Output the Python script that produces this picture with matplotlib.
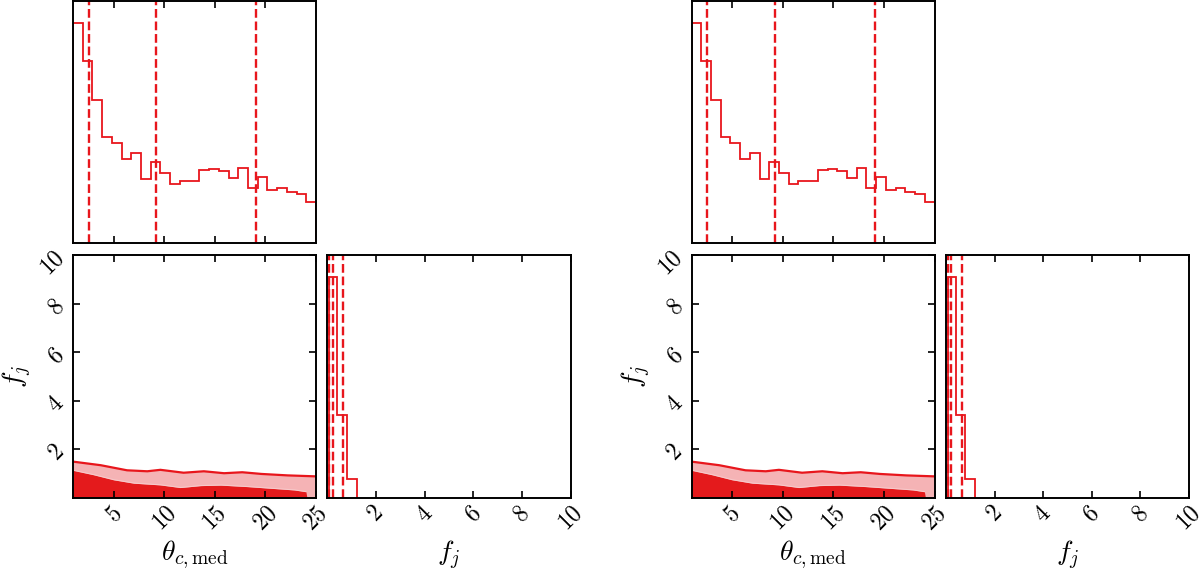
#! /usr/bin/env python3

import numpy as np
import matplotlib
matplotlib.use( 'Agg' )
import matplotlib.pyplot as plt

#----------------------------------------------------------------------------
# Values (same posterior drawn twice)
#----------------------------------------------------------------------------
theta_lo, theta_hi, theta_nbins = 0.95, 25.0, 25
theta_counts = [ 660, 545, 430, 318, 300, 251, 270, 191, 243, 210, 177, 184, 186,
                 218, 221, 215, 193, 225, 164, 196, 157, 163, 152, 146, 121 ]
theta_quantiles = [ 2.5, 9.2, 19.1 ]

fj_edges     = [ 0.08, 0.40, 0.80, 1.20 ]
fj_counts    = [ 661, 247, 56 ]
fj_quantiles = [ 0.07, 0.21, 0.65 ]

# 2D credible regions: upper boundary of each filled level
outer_x = [ 0.95, 1.1, 3.7, 6.3, 8.3, 9.6, 11.9, 13.9, 15.9, 17.7, 19.6, 22.2, 25.0 ]
outer_y = [ 1.49, 1.48, 1.34, 1.13, 1.09, 1.15, 1.03, 1.09, 1.01, 1.05, 0.98, 0.92, 0.88 ]
inner_x = [ 0.95, 1.1, 3.0, 5.0, 7.0, 9.6, 11.6, 13.6, 15.6, 18.2, 20.9, 22.9, 24.0, 24.1 ]
inner_y = [ 1.13, 1.12, 0.95, 0.74, 0.60, 0.53, 0.42, 0.50, 0.52, 0.46, 0.38, 0.32, 0.25, 0.0 ]

fj_lim  = [ 0, 10 ]
xlabel  = r'$\theta_{c,\mathrm{med}}$'
ylabel  = r'$f_j$'

red   = '#e8161c'
dark  = '#e41a1c'
light = '#f5b3b5'

#----------------------------------------------------------------------------
plt.rcParams['font.family']    = 'serif'
plt.rcParams['font.serif']     = [ 'cmr10', 'DejaVu Serif' ]
plt.rcParams['mathtext.fontset'] = 'cm'
plt.rcParams['axes.formatter.use_mathtext'] = True
plt.rcParams['axes.linewidth'] = 1.4
plt.rcParams['axes.unicode_minus'] = False

W, H = 1200., 572.

def Box( left, top, right, bottom ):
    return [ left / W, 1 - bottom / H, ( right - left ) / W, ( bottom - top ) / H ]

def Ticks( ax ):
    ax.tick_params( direction = 'in', top = True, right = True,
                    length = 5, width = 1.2, labelsize = 17, pad = 3 )

def Corner( fig, x0 ):
    ax_t  = fig.add_axes( Box( x0,         1.0,   x0 + 243.0, 242.7 ) )
    ax_2d = fig.add_axes( Box( x0,         255.3, x0 + 243.0, 497.7 ) )
    ax_f  = fig.add_axes( Box( x0 + 254.5, 255.3, x0 + 497.5, 497.7 ) )

    # theta histogram
    edges = np.linspace( theta_lo, theta_hi, theta_nbins + 1 )
    ax_t.stairs( theta_counts, edges, color = red, lw = 1.3 )
    for q in theta_quantiles:
        ax_t.axvline( q, color = red, ls = '--', lw = 1.7 )
    ax_t.set_xlim( theta_lo, theta_hi )
    ax_t.set_ylim( 0, 1.1 * max( theta_counts ) )
    ax_t.set_xticks( [ 5, 10, 15, 20 ] )
    ax_t.set_xticklabels( [] )
    ax_t.set_yticks( [] )
    Ticks( ax_t )

    # 2D contours
    ax_2d.fill_between( outer_x, 0, outer_y, color = light, lw = 0 )
    ax_2d.fill_between( inner_x, 0, inner_y, color = dark, lw = 0 )
    ax_2d.plot( inner_x[:-1], inner_y[:-1], color = '#f7c9ca', lw = 0.8 )
    ax_2d.plot( outer_x, outer_y, color = red, lw = 1.6 )
    ax_2d.set_xlim( theta_lo, theta_hi )
    ax_2d.set_ylim( fj_lim )
    ax_2d.set_xticks( [ 5, 10, 15, 20, 25 ] )
    ax_2d.set_yticks( [ 2, 4, 6, 8, 10 ] )
    Ticks( ax_2d )
    for l in ax_2d.get_xticklabels(): l.set_rotation( 45 )
    for l in ax_2d.get_yticklabels(): l.set_rotation( 45 )
    ax_2d.set_xlabel( xlabel, fontsize = 20 )
    ax_2d.set_ylabel( ylabel, fontsize = 20 )
    ax_2d.xaxis.set_label_coords( 0.5, -0.17 )
    ax_2d.yaxis.set_label_coords( -0.16, 0.5 )

    # f_j histogram
    ax_f.stairs( fj_counts, fj_edges, color = red, lw = 1.3 )
    for q in fj_quantiles:
        ax_f.axvline( q, color = red, ls = '--', lw = 1.7 )
    ax_f.set_xlim( fj_lim )
    ax_f.set_ylim( 0, 1.1 * max( fj_counts ) )
    ax_f.set_xticks( [ 2, 4, 6, 8, 10 ] )
    ax_f.set_yticks( [] )
    Ticks( ax_f )
    for l in ax_f.get_xticklabels(): l.set_rotation( 45 )
    ax_f.set_xlabel( ylabel, fontsize = 20 )
    ax_f.xaxis.set_label_coords( 0.5, -0.17 )

#----------------------------------------------------------------------------
def main():
    fig = plt.figure( figsize = ( 12, 5.72 ), dpi = 100 )
    Corner( fig, 73.0 )
    Corner( fig, 691.5 )
    fig.savefig( 'out.png', dpi = 100 )

if __name__ == "__main__":
    main()
